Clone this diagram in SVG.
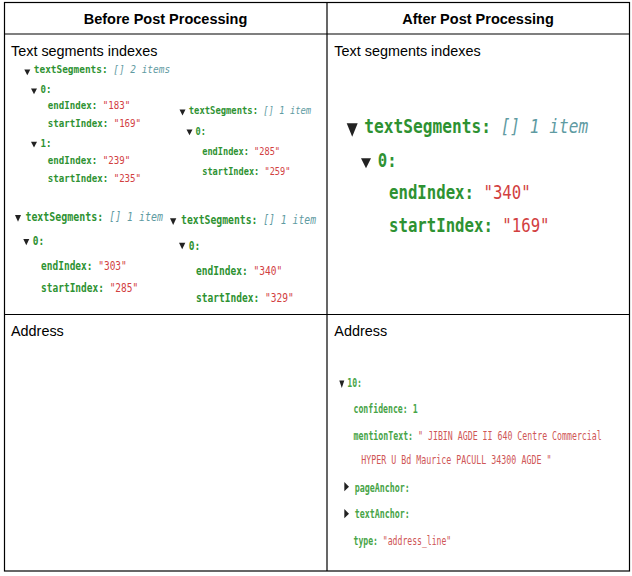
<svg xmlns="http://www.w3.org/2000/svg" width="632" height="576" viewBox="0 0 632 576">
<style>
.grid{fill:none;stroke:#000;stroke-width:1.2}
.hd{font-family:"Liberation Sans",Arial,sans-serif;font-weight:bold;font-size:14.5px;fill:#000;text-anchor:middle}
.lb{font-family:"Liberation Sans",Arial,sans-serif;font-size:14.4px;fill:#000}
.j{font-family:"DejaVu Sans Mono","Liberation Mono",monospace}
.k{fill:#2e9232;font-weight:bold}
.v{fill:#d2403f;font-weight:normal}
.m{fill:#5f9ba2;font-style:italic;font-weight:normal}
.k2{fill:#47a447;font-weight:bold}
.v2{fill:#cf5656;font-weight:normal}
.tri{fill:#222}
</style>
<rect width="632" height="576" fill="#fff"/>
<g id="table">
<rect class="grid" x="4.5" y="2.5" width="625" height="568.5"/>
<line class="grid" x1="4.5" y1="34" x2="629.5" y2="34"/>
<line class="grid" x1="4.5" y1="314.5" x2="629.5" y2="314.5"/>
<line class="grid" x1="327" y1="2.5" x2="327" y2="571"/>
</g>
<g id="header">
<text class="hd" x="165.5" y="24">Before Post Processing</text>
<text class="hd" x="478" y="24">After Post Processing</text>
</g>
<g id="before-text-segments">
<text class="lb" x="11" y="56">Text segments indexes</text>
<g id="b1" class="j" font-size="10.8">
<polygon class="tri" points="24.3,69.5 30.3,69.5 27.3,75.3"/>
<text transform="translate(33.8,73) scale(0.875,1)"><tspan class="k">textSegments:</tspan> <tspan class="m">[] 2 items</tspan></text>
<polygon class="tri" points="31,88.5 37,88.5 34,94.2"/>
<text transform="translate(40.5,93) scale(0.845,1)" class="k">0:</text>
<text transform="translate(47.8,109) scale(0.845,1)"><tspan class="k">endIndex:</tspan> <tspan class="v">"183"</tspan></text>
<text transform="translate(47.8,127) scale(0.845,1)"><tspan class="k">startIndex:</tspan> <tspan class="v">"169"</tspan></text>
<polygon class="tri" points="31,141.8 37,141.8 34,147.5"/>
<text transform="translate(40.5,147) scale(0.845,1)" class="k">1:</text>
<text transform="translate(47.8,164) scale(0.845,1)"><tspan class="k">endIndex:</tspan> <tspan class="v">"239"</tspan></text>
<text transform="translate(47.8,182) scale(0.845,1)"><tspan class="k">startIndex:</tspan> <tspan class="v">"235"</tspan></text>
</g>
<g id="b2" class="j" font-size="11.2">
<polygon class="tri" points="179.5,109.5 185.5,109.5 182.5,115.5"/>
<text transform="translate(188.8,114) scale(0.79,1)"><tspan class="k">textSegments:</tspan> <tspan class="m">[] 1 item</tspan></text>
<polygon class="tri" points="186.5,129.5 192.5,129.5 189.5,135.3"/>
<text transform="translate(195.5,135) scale(0.77,1)" class="k">0:</text>
<text transform="translate(202.2,155) scale(0.77,1)"><tspan class="k">endIndex:</tspan> <tspan class="v">"285"</tspan></text>
<text transform="translate(202.2,175) scale(0.77,1)"><tspan class="k">startIndex:</tspan> <tspan class="v">"259"</tspan></text>
</g>
<g id="b3" class="j" font-size="13">
<polygon class="tri" points="15,215 21,215 18,221.7"/>
<text transform="translate(25.4,220.7) scale(0.765,1)"><tspan class="k">textSegments:</tspan> <tspan class="m">[] 1 item</tspan></text>
<polygon class="tri" points="23.3,239 29.3,239 26.3,245.3"/>
<text transform="translate(32.7,245) scale(0.73,1)" class="k">0:</text>
<text transform="translate(41.1,270) scale(0.73,1)"><tspan class="k">endIndex:</tspan> <tspan class="v">"303"</tspan></text>
<text transform="translate(41.1,292.3) scale(0.73,1)"><tspan class="k">startIndex:</tspan> <tspan class="v">"285"</tspan></text>
</g>
<g id="b4" class="j" font-size="13">
<polygon class="tri" points="170,218.3 176.3,218.3 173.2,225"/>
<text transform="translate(181.1,224.3) scale(0.75,1)"><tspan class="k">textSegments:</tspan> <tspan class="m">[] 1 item</tspan></text>
<polygon class="tri" points="179,242.7 185.3,242.7 182.2,249.3"/>
<text transform="translate(188.7,250) scale(0.735,1)" class="k">0:</text>
<text transform="translate(196.1,275) scale(0.735,1)"><tspan class="k">endIndex:</tspan> <tspan class="v">"340"</tspan></text>
<text transform="translate(196.1,301.7) scale(0.735,1)"><tspan class="k">startIndex:</tspan> <tspan class="v">"329"</tspan></text>
</g>
</g>
<g id="after-text-segments">
<text class="lb" x="334.3" y="56">Text segments indexes</text>
<g id="a1" class="j" font-size="19.5">
<polygon class="tri" points="346.7,123.3 357.7,123.3 352.2,136.7"/>
<text transform="translate(364.3,133.3) scale(0.83,1)"><tspan class="k">textSegments:</tspan> <tspan class="m">[] 1 item</tspan></text>
<polygon class="tri" points="361,158.3 371,158.3 366,168.3"/>
<text transform="translate(377.7,167.3) scale(0.805,1)" class="k">0:</text>
<text transform="translate(389,199) scale(0.805,1)"><tspan class="k">endIndex:</tspan> <tspan class="v">"340"</tspan></text>
<text transform="translate(389,231.7) scale(0.805,1)"><tspan class="k">startIndex:</tspan> <tspan class="v">"169"</tspan></text>
</g>
</g>
<g id="before-address">
<text class="lb" x="11" y="336">Address</text>
</g>
<g id="after-address">
<text class="lb" x="334.3" y="336">Address</text>
<g id="a2" class="j" font-size="13">
<polygon class="tri" points="339.3,380.5 344.3,380.5 341.8,388"/>
<text transform="translate(347.2,387.3) scale(0.63,1)" class="k2">10:</text>
<text transform="translate(353.5,413.3) scale(0.63,1)" class="k2">confidence: 1</text>
<text transform="translate(353.5,440) scale(0.635,1)"><tspan class="k2">mentionText:</tspan> <tspan class="v2">" JIBIN AGDE II 640 Centre Commercial</tspan></text>
<text transform="translate(361.2,464.3) scale(0.64,1)" class="v2">HYPER U Bd Maurice PACULL 34300 AGDE "</text>
<polygon class="tri" points="344.3,482 349,486.7 344.3,491.3"/>
<text transform="translate(354.8,491.7) scale(0.64,1)" class="k2">pageAnchor:</text>
<polygon class="tri" points="344.3,509 349,513.7 344.3,518.3"/>
<text transform="translate(354.8,518.3) scale(0.64,1)" class="k2">textAnchor:</text>
<text transform="translate(353.5,545) scale(0.625,1)"><tspan class="k2">type:</tspan> <tspan class="v2">"address_line"</tspan></text>
</g>
</g>
</svg>
